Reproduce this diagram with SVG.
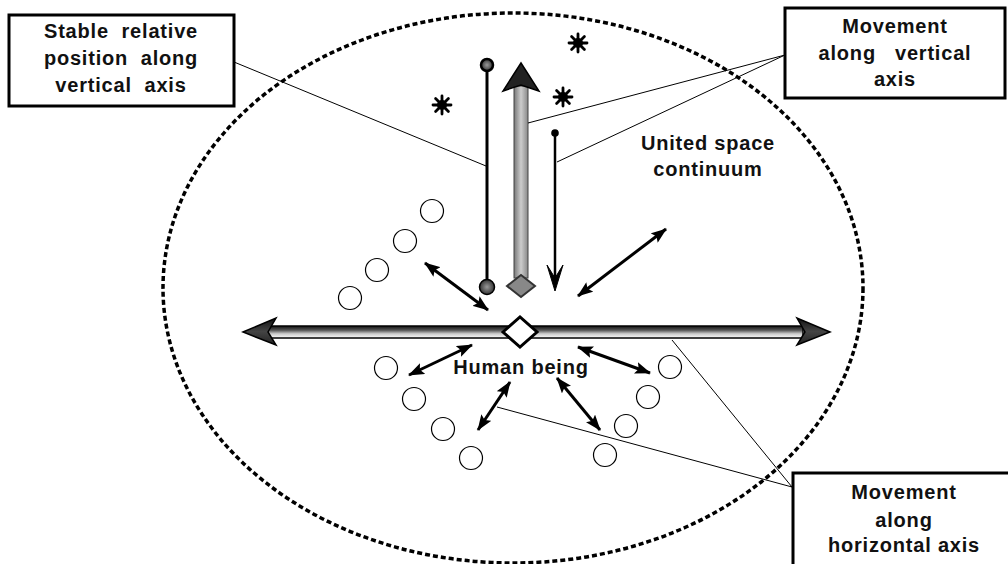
<svg xmlns="http://www.w3.org/2000/svg" width="1008" height="564" viewBox="0 0 1008 564">
<defs>
<style>
.box{fill:#fff;stroke:#000;stroke-width:3}
.lbl{font-family:"Liberation Sans",Arial,sans-serif;font-weight:bold;font-size:20px;letter-spacing:0.8px;fill:#111;text-anchor:middle}
.lead{stroke:#000;stroke-width:1;fill:none}
.dbl{stroke:#000;stroke-width:3;fill:none;marker-start:url(#ah);marker-end:url(#ah)}
.ring{fill:none;stroke:#000;stroke-width:1.2}
.star{stroke:#000;stroke-width:2.8;stroke-linecap:round}
</style>
<marker id="ah" viewBox="0 0 16 12" refX="15" refY="6" markerWidth="16" markerHeight="12" markerUnits="userSpaceOnUse" orient="auto-start-reverse">
<path d="M0,0 L16,6 L0,12 L3,6 z" fill="#000"/>
</marker>
<linearGradient id="hshaft" x1="0" y1="0" x2="0" y2="1">
<stop offset="0" stop-color="#111"/>
<stop offset="0.35" stop-color="#555"/>
<stop offset="0.65" stop-color="#ccc"/>
<stop offset="1" stop-color="#fafafa"/>
</linearGradient>
<linearGradient id="hhead" x1="0" y1="0" x2="0" y2="1">
<stop offset="0" stop-color="#111"/>
<stop offset="0.5" stop-color="#444"/>
<stop offset="1" stop-color="#222"/>
</linearGradient>
<linearGradient id="vshaft" x1="0" y1="0" x2="1" y2="0">
<stop offset="0" stop-color="#777"/>
<stop offset="0.5" stop-color="#ccc"/>
<stop offset="1" stop-color="#888"/>
</linearGradient>
<radialGradient id="dotg">
<stop offset="0" stop-color="#999"/>
<stop offset="1" stop-color="#333"/>
</radialGradient>
<g id="st">
<line class="star" x1="-9" y1="0" x2="9" y2="0"/>
<line class="star" x1="0" y1="-9" x2="0" y2="9"/>
<line class="star" x1="-6.4" y1="-6.4" x2="6.4" y2="6.4"/>
<line class="star" x1="-6.4" y1="6.4" x2="6.4" y2="-6.4"/>
<circle r="5" fill="#000"/>
</g>
</defs>
<rect width="1008" height="564" fill="#fff"/>

<g id="space-continuum">
<ellipse cx="513" cy="288" rx="350" ry="275" fill="none" stroke="#000" stroke-width="3.5" stroke-dasharray="5 3"/>
<use href="#st" x="442" y="105"/>
<use href="#st" x="563" y="97"/>
<use href="#st" x="578" y="43"/>
<text class="lbl" x="708" y="150">United space</text>
<text class="lbl" x="708" y="176">continuum</text>
</g>

<g id="circles">
<circle class="ring" cx="432" cy="211" r="11.5"/>
<circle class="ring" cx="405" cy="241" r="11.5"/>
<circle class="ring" cx="377" cy="270" r="11.5"/>
<circle class="ring" cx="350" cy="298" r="11.5"/>
<circle class="ring" cx="386" cy="368" r="11.5"/>
<circle class="ring" cx="414" cy="399" r="11.5"/>
<circle class="ring" cx="443" cy="429" r="11.5"/>
<circle class="ring" cx="471" cy="458" r="11.5"/>
<circle class="ring" cx="670" cy="367" r="11.5"/>
<circle class="ring" cx="648" cy="397" r="11.5"/>
<circle class="ring" cx="626" cy="426" r="11.5"/>
<circle class="ring" cx="605" cy="455" r="11.5"/>
</g>

<g id="stable-vertical">
<line x1="487" y1="65" x2="487" y2="287" stroke="#000" stroke-width="3"/>
<circle cx="487" cy="65" r="6" fill="url(#dotg)" stroke="#000" stroke-width="2.5"/>
<circle cx="487" cy="287" r="7.5" fill="url(#dotg)" stroke="#000" stroke-width="1.5"/>
</g>

<g id="vertical-gray-arrow">
<rect x="514" y="86" width="14" height="192" fill="url(#vshaft)" stroke="#444" stroke-width="1"/>
<path d="M521,63 L539,91 L521,85 L503,91 z" fill="#222" stroke="#000" stroke-width="1.5"/>
<path d="M507,286 L521,275 L535,286 L521,297 z" fill="#888" stroke="#333" stroke-width="2"/>
</g>

<g id="vertical-down-arrow">
<line x1="555" y1="133" x2="555" y2="285" stroke="#000" stroke-width="2.5"/>
<circle cx="555" cy="133" r="3.8" fill="#000"/>
<path d="M555,291 L547,265 L555,278 L563,265 z" fill="#000" stroke="#000" stroke-width="1"/>
</g>

<g id="horizontal-axis">
<rect x="268" y="326" width="535" height="12" fill="url(#hshaft)" stroke="#000" stroke-width="1.5"/>
<path d="M243,332 L276,318 L268,332 L276,345 z" fill="url(#hhead)" stroke="#000" stroke-width="1.5"/>
<path d="M830,332 L797,318 L805,332 L797,345 z" fill="url(#hhead)" stroke="#000" stroke-width="1.5"/>
</g>

<g id="human-being">
<path d="M503,332 L520,317 L537,332 L520,347 z" fill="#fff" stroke="#000" stroke-width="3"/>
<text class="lbl" x="521" y="374">Human being</text>
</g>

<g id="connectors">
<line class="dbl" x1="425" y1="263" x2="488" y2="310"/>
<line class="dbl" x1="578" y1="296" x2="666" y2="229"/>
<line class="dbl" x1="409" y1="375" x2="472" y2="345"/>
<line class="dbl" x1="510" y1="382" x2="478" y2="430"/>
<line class="dbl" x1="578" y1="347" x2="650" y2="373"/>
<line class="dbl" x1="557" y1="378" x2="600" y2="430"/>
<line class="lead" x1="234" y1="62" x2="486" y2="166"/>
<line class="lead" x1="785" y1="55" x2="528" y2="123"/>
<line class="lead" x1="785" y1="55" x2="557" y2="162"/>
<line class="lead" x1="792" y1="487" x2="497" y2="407"/>
<line class="lead" x1="792" y1="487" x2="672" y2="340"/>
</g>

<g id="box-stable">
<rect class="box" x="9" y="15" width="225" height="91"/>
<text class="lbl" x="121" y="38" xml:space="preserve">Stable  relative</text>
<text class="lbl" x="121" y="65" xml:space="preserve">position  along</text>
<text class="lbl" x="121" y="92" xml:space="preserve">vertical  axis</text>
</g>

<g id="box-vertical">
<rect class="box" x="785" y="8" width="220" height="90"/>
<text class="lbl" x="895" y="33">Movement</text>
<text class="lbl" x="895" y="60" xml:space="preserve">along   vertical</text>
<text class="lbl" x="895" y="86">axis</text>
</g>

<g id="box-horizontal">
<rect class="box" x="793" y="473" width="230" height="110"/>
<text class="lbl" x="904" y="499">Movement</text>
<text class="lbl" x="904" y="527">along</text>
<text class="lbl" x="904" y="552">horizontal axis</text>
</g>
</svg>
